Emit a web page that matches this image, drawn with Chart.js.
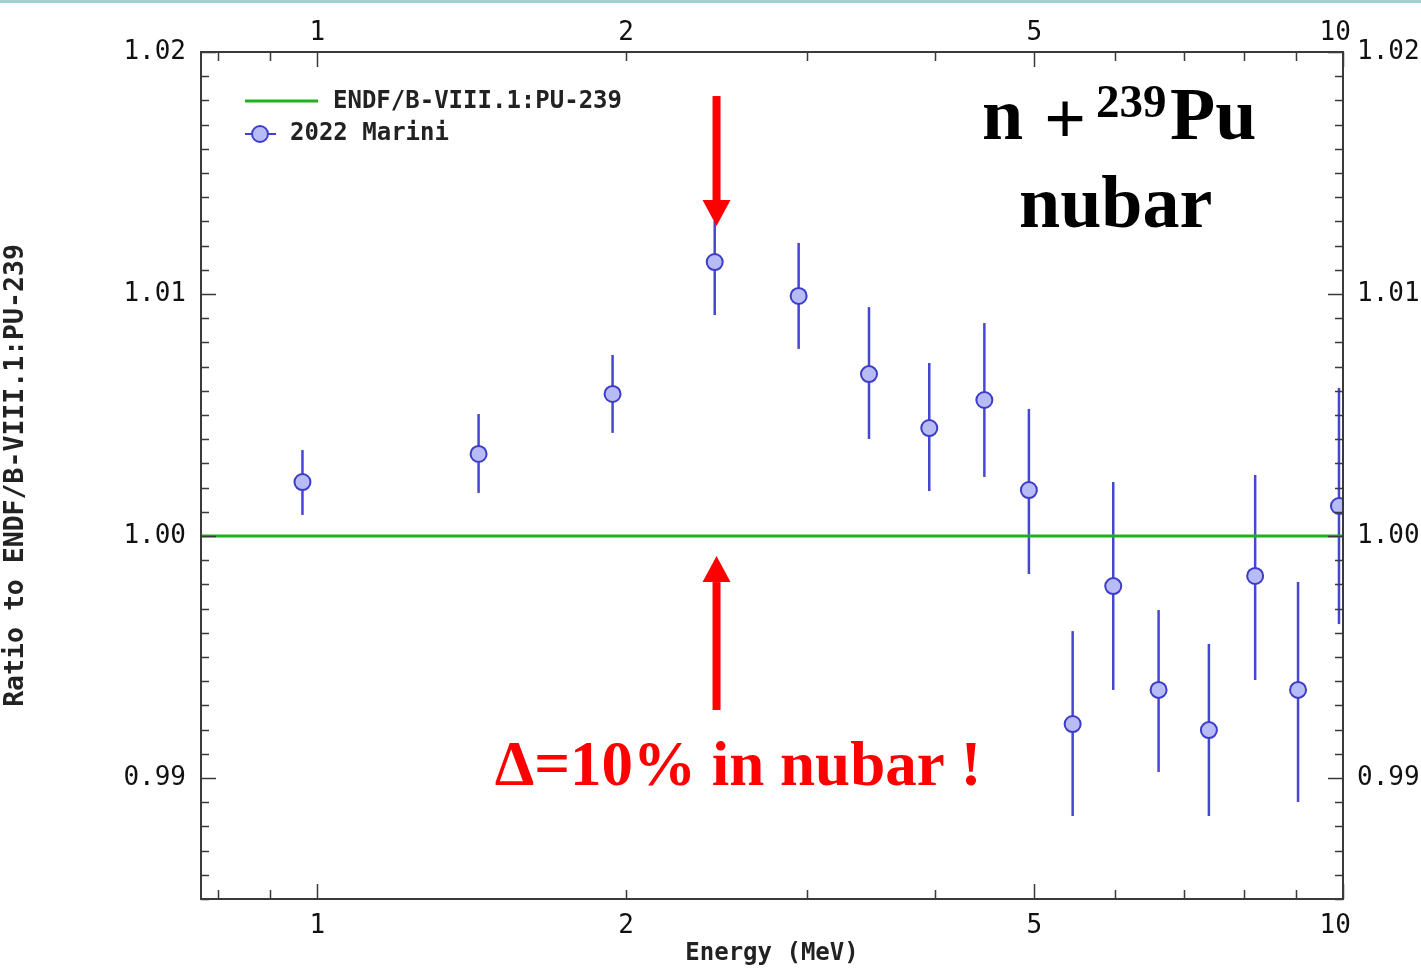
<!DOCTYPE html>
<html>
<head>
<meta charset="utf-8">
<script src="https://cdn.jsdelivr.net/npm/chart.js@4.4.0/dist/chart.umd.min.js"></script>
<style>
  html, body { margin: 0; padding: 0; background: #fff; }
  #wrap { width: 1421px; height: 968px; }
</style>
</head>
<body>
<div id="wrap"><canvas id="myChart" width="1421" height="968"></canvas></div>
<script>
// data
let energy = [0.967, 1.436, 1.94, 2.44, 2.946, 3.45, 3.95, 4.47, 4.94, 5.45, 5.97, 6.61, 7.40, 8.21, 9.04, 9.91];
let ratio = [1.00223, 1.00339, 1.00587, 1.01132, 1.00992, 1.00669, 1.00446, 1.00562, 1.0019, 0.99223, 0.99793, 0.99364, 0.99198, 0.99835, 0.99364, 1.00124];
let ratioHi = [1.00355, 1.00504, 1.00748, 1.01302, 1.01211, 1.00946, 1.00715, 1.0088, 1.00525, 0.99607, 1.00223, 0.99694, 0.99554, 1.00252, 0.9981, 1.00612];
let ratioLo = [1.00087, 1.00178, 1.00426, 1.00913, 1.00773, 1.00401, 1.00186, 1.00244, 0.99843, 0.98843, 0.99364, 0.99025, 0.98843, 0.99405, 0.98901, 0.99636];
let endfX = [0.77, 10];
let endfY = [1.0, 1.0];
let xTicks = [1, 2, 5, 10];
let yTicks = [0.99, 1.00, 1.01, 1.02];
let xMinor = [0.8, 0.9, 2, 3, 4, 6, 7, 8, 9];
let xMajor = [1, 5, 10];

// arrows (energy, from, to)
let arrowDown = { x: 2.45, from: 1.01818, to: 1.01281 };
let arrowUp = { x: 2.45, from: 0.99281, to: 0.99917 };

const mono = '"DejaVu Sans Mono", monospace';
const serif = '"Liberation Serif", "Times New Roman", serif';

// the last label sits a bit inside, like the original plot
let xLabel = v => (v === 10 ? "10 " : String(v));

function drawArrow(ctx, x, y0, y1) {
    let dir = y1 > y0 ? 1 : -1;
    let head = 26;
    ctx.fillStyle = "#ff0000";
    ctx.fillRect(x - 4, Math.min(y0, y1 - dir * head), 8, Math.abs(y1 - dir * head - y0));
    ctx.beginPath();
    ctx.moveTo(x, y1);
    ctx.lineTo(x - 14, y1 - dir * head);
    ctx.lineTo(x + 14, y1 - dir * head);
    ctx.closePath();
    ctx.fill();
}

const deco = {
    id: "deco",
    beforeDraw(chart) {
        let ctx = chart.ctx;
        ctx.save();
        ctx.fillStyle = "#fff";
        ctx.fillRect(0, 0, chart.width, chart.height);
        ctx.fillStyle = "#9fd1d3";
        ctx.fillRect(0, 0, chart.width, 3);
        ctx.restore();
    },
    beforeDatasetsDraw(chart) {
        let ctx = chart.ctx, a = chart.chartArea;
        let xs = chart.scales.x, ys = chart.scales.y;
        ctx.save();
        ctx.beginPath();
        ctx.rect(a.left, a.top, a.right - a.left, a.bottom - a.top);
        ctx.clip();
        ctx.strokeStyle = "#4646d2";
        ctx.lineWidth = 2.5;
        energy.forEach((e, i) => {
            let px = xs.getPixelForValue(e);
            ctx.beginPath();
            ctx.moveTo(px, ys.getPixelForValue(ratioLo[i]));
            ctx.lineTo(px, ys.getPixelForValue(ratioHi[i]));
            ctx.stroke();
        });
        ctx.restore();
    },
    afterDatasetsDraw(chart) {
        let ctx = chart.ctx, a = chart.chartArea;
        let xs = chart.scales.x, ys = chart.scales.y;
        ctx.save();
        // frame
        ctx.strokeStyle = "#3a3a3a";
        ctx.lineWidth = 2;
        ctx.strokeRect(a.left, a.top, a.right - a.left, a.bottom - a.top);
        // ticks inside the frame
        ctx.lineWidth = 1.5;
        ctx.beginPath();
        for (let k = 0; k <= 35; k++) {
            let v = 0.985 + k * 0.001;
            let py = Math.round(ys.getPixelForValue(v)) + 0.5;
            let len = (k % 10 === 5) ? 15 : 8;
            ctx.moveTo(a.left, py); ctx.lineTo(a.left + len, py);
            ctx.moveTo(a.right, py); ctx.lineTo(a.right - len, py);
        }
        xMinor.concat(xMajor).forEach(v => {
            let px = Math.round(xs.getPixelForValue(v)) + 0.5;
            let len = xMajor.includes(v) ? 15 : 9;
            ctx.moveTo(px, a.bottom); ctx.lineTo(px, a.bottom - len);
            ctx.moveTo(px, a.top); ctx.lineTo(px, a.top + len);
        });
        ctx.stroke();

        // legend
        ctx.strokeStyle = "#1fb21f";
        ctx.lineWidth = 3;
        ctx.beginPath();
        ctx.moveTo(245, 101); ctx.lineTo(318, 101);
        ctx.stroke();
        ctx.strokeStyle = "#4040cc";
        ctx.lineWidth = 2;
        ctx.beginPath();
        ctx.moveTo(245, 134); ctx.lineTo(276, 134);
        ctx.stroke();
        ctx.fillStyle = "#b7bbf6";
        ctx.beginPath();
        ctx.arc(260, 134, 8, 0, Math.PI * 2);
        ctx.fill(); ctx.stroke();
        ctx.fillStyle = "#222";
        ctx.font = "bold 24px " + mono;
        ctx.textBaseline = "middle";
        ctx.textAlign = "left";
        ctx.fillText("ENDF/B-VIII.1:PU-239", 333, 102);
        ctx.fillText("2022 Marini", 290, 134);

        // title block
        ctx.fillStyle = "#000";
        ctx.textBaseline = "alphabetic";
        ctx.font = "bold 74px " + serif;
        ctx.fillText("n", 982, 139);
        ctx.fillText("Pu", 1170, 139);
        ctx.fillText("+", 1044, 143);
        ctx.font = "bold 47px " + serif;
        ctx.fillText("239", 1096, 117);
        ctx.font = "bold 74px " + serif;
        ctx.fillText("nubar", 1019, 227);

        // arrows and note
        let ax = xs.getPixelForValue(arrowDown.x);
        drawArrow(ctx, ax, ys.getPixelForValue(arrowDown.from), ys.getPixelForValue(arrowDown.to));
        drawArrow(ctx, ax, ys.getPixelForValue(arrowUp.from), ys.getPixelForValue(arrowUp.to));
        ctx.fillStyle = "#ff0000";
        ctx.font = "bold 63px " + serif;
        ctx.textAlign = "center";
        ctx.fillText("\u0394=10% in nubar !", 738, 785);
        ctx.restore();
    }
};

let ctx = document.getElementById("myChart").getContext("2d");
let myChart = new Chart(ctx, {
    type: "scatter",
    data: {
        datasets: [
            {
                label: "ENDF/B-VIII.1:PU-239",
                type: "line",
                data: endfX.map((x, i) => ({ x: x, y: endfY[i] })),
                borderColor: "#1fb21f",
                borderWidth: 3,
                pointRadius: 0,
                order: 1
            },
            {
                label: "2022 Marini",
                data: energy.map((e, i) => ({ x: e, y: ratio[i] })),
                pointRadius: 8,
                pointBackgroundColor: "#b7bbf6",
                pointBorderColor: "#3c3cc8",
                pointBorderWidth: 2,
                clip: 0,
                order: 0
            }
        ]
    },
    options: {
        responsive: false,
        animation: false,
        events: [],
        layout: { padding: 0 },
        plugins: { legend: { display: false }, tooltip: { enabled: false } },
        scales: {
            x: {
                type: "logarithmic",
                position: "bottom",
                min: 0.77,
                max: 10,
                afterBuildTicks: s => { s.ticks = xTicks.map(v => ({ value: v })); },
                afterFit: s => { s.height = 69; },
                grid: { display: false, drawTicks: false },
                border: { display: false },
                ticks: {
                    callback: xLabel,
                    font: { family: mono, size: 26 },
                    color: "#111",
                    padding: 12,
                    maxRotation: 0,
                    autoSkip: false
                },
                title: {
                    display: true,
                    text: "Energy (MeV)",
                    font: { family: mono, size: 24, weight: "bold" },
                    color: "#222",
                    padding: 0
                }
            },
            x2: {
                type: "logarithmic",
                position: "top",
                min: 0.77,
                max: 10,
                afterBuildTicks: s => { s.ticks = xTicks.map(v => ({ value: v })); },
                afterFit: s => { s.height = 52; },
                grid: { display: false, drawTicks: false },
                border: { display: false },
                ticks: {
                    callback: xLabel,
                    font: { family: mono, size: 26 },
                    color: "#111",
                    padding: 3,
                    maxRotation: 0,
                    autoSkip: false
                }
            },
            y: {
                position: "left",
                min: 0.985,
                max: 1.02,
                afterBuildTicks: s => { s.ticks = yTicks.map(v => ({ value: v })); },
                afterFit: s => { s.width = 201; },
                grid: { display: false, drawTicks: false },
                border: { display: false },
                ticks: {
                    callback: v => v.toFixed(2),
                    font: { family: mono, size: 26 },
                    color: "#111",
                    padding: 15
                },
                title: {
                    display: true,
                    text: "Ratio to ENDF/B-VIII.1:PU-239",
                    font: { family: mono, size: 26.5, weight: "bold" },
                    color: "#222",
                    padding: 0
                }
            },
            y2: {
                position: "right",
                min: 0.985,
                max: 1.02,
                afterBuildTicks: s => { s.ticks = yTicks.map(v => ({ value: v })); },
                afterFit: s => { s.width = 78; },
                grid: { display: false, drawTicks: false },
                border: { display: false },
                ticks: {
                    callback: v => v.toFixed(2),
                    font: { family: mono, size: 26 },
                    color: "#111",
                    padding: 14
                }
            }
        }
    },
    plugins: [deco]
});
</script>
</body>
</html>
